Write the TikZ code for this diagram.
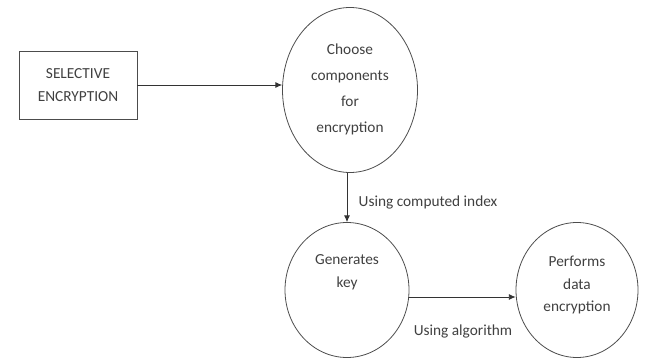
\documentclass[tikz,border=0pt]{standalone}
\usepackage{fontspec}
\setmainfont{Carlito}
\usetikzlibrary{positioning}
\usetikzlibrary{arrows.meta}
\usetikzlibrary{shapes.geometric}
\begin{document}
\begin{tikzpicture}[x=0.75pt, y=-0.75pt,
        every node/.style={font=\fontsize{11.5}{17}\selectfont, text=black!75},
        process/.style={ellipse, draw=black!70, line width=0.6pt, inner sep=0pt},
        boxed/.style={rectangle, draw=black!70, line width=0.6pt, align=center, minimum width=88.5pt, minimum height=51pt},
        flow/.style={-{Latex[length=5pt, width=4.5pt]}, draw=black!80, line width=0.6pt}]
            \useasboundingbox (0,0) rectangle (645,363);

            \node[boxed] (enc_box) at (78,85) {SELECTIVE\\ENCRYPTION};
            \node[process, minimum width=101.25pt, minimum height=123.75pt] (choose_0) at (350,90) {};
            \node[align=center, font=\fontsize{11.5}{19.5}\selectfont] (choose_text) at (350,89) {Choose\\components\\for\\encryption};
            \node[process, minimum width=93pt, minimum height=101.25pt] (key_0) at (347,290) {};
            \node[align=center] (key_text) at (347,272) {Generates\\key};
            \node[process, minimum width=91.5pt, minimum height=101.25pt] (perf_0) at (577,290) {};
            \node[align=center] (perf_text) at (577,285) {Performs\\data\\encryption};

            \draw[flow] (enc_box.east) -- (enc_box.east -| choose_0.west);
            \draw[flow] (choose_0.south -| key_0.north) -- (key_0.north);
            \node[anchor=west] (index_label) at (354,202) {Using computed index};
            \coordinate (key_out) at (key_0.east |- 0,297);
            \draw[flow] (key_out) -- (key_out -| perf_0.west);
            \node (algo_label) at (463,331) {Using algorithm};
        \end{tikzpicture}
\end{document}
